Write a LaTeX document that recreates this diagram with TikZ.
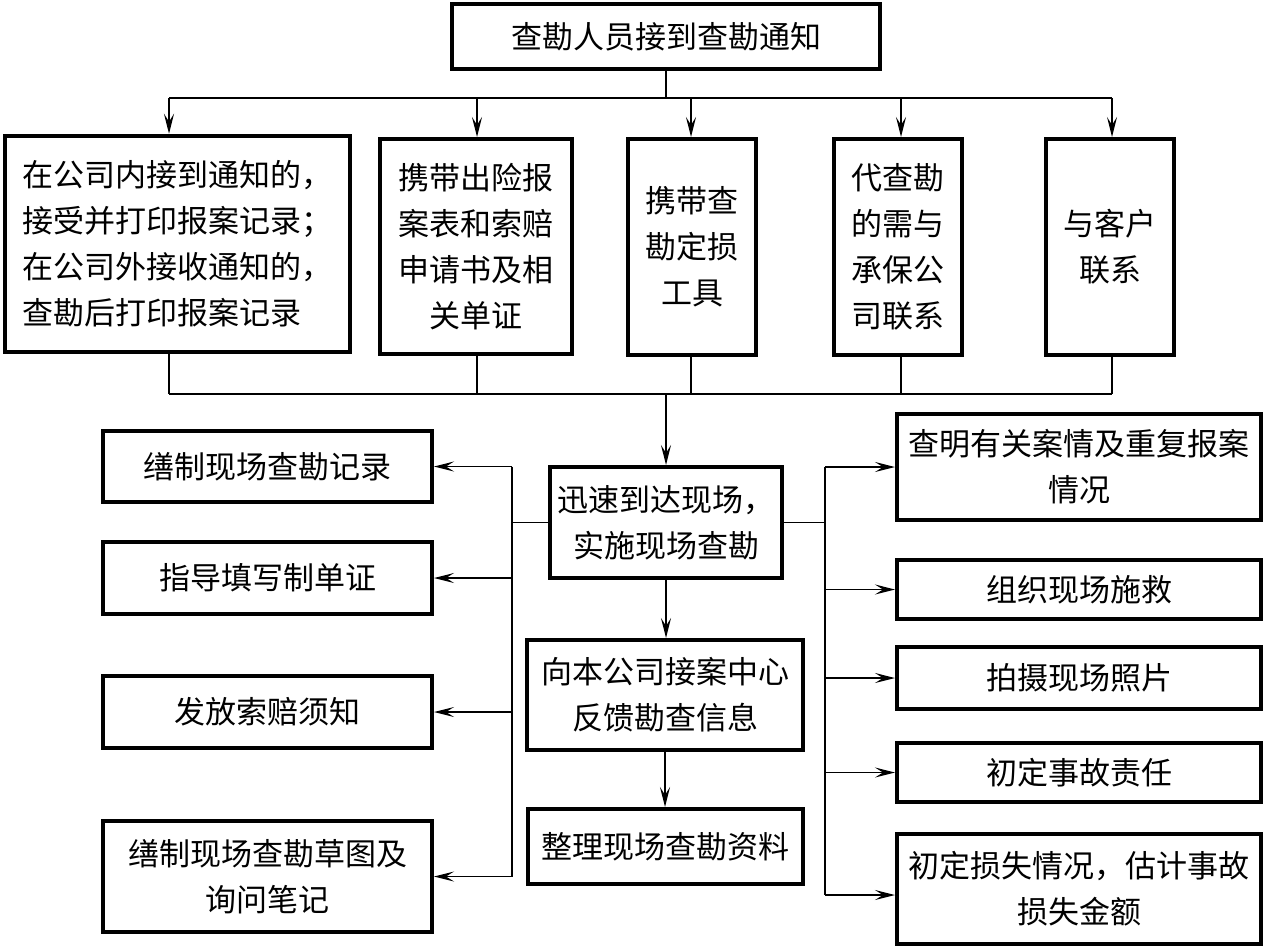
\documentclass[tikz,border=0pt]{standalone}
\usepackage{fontspec}
\newfontfamily\cjk{Noto Sans CJK SC}
\usetikzlibrary{arrows.meta}
\begin{document}
\begin{tikzpicture}[x=1pt,y=-1pt,
  box/.style={draw, line width=4pt, inner sep=0pt, font=\cjk\fontsize{31}{46}\selectfont, align=center},
  conn/.style={line width=1.5pt},
  arr/.style={conn, -{Stealth[length=20pt,width=10pt,inset=8pt]}}]
\useasboundingbox[fill=white] (0,0) rectangle (1266,948);

% top
\node[box, minimum width=428pt, minimum height=65pt] (top) at (666,36.5) {查勘人员接到查勘通知};

% second row
\node[box, align=left, line width=4.5pt, minimum width=345pt, minimum height=216pt] (b1) at (177.5,244)
  {在公司内接到通知的，\\接受并打印报案记录；\\在公司外接收通知的，\\查勘后打印报案记录};
\node[box, minimum width=192pt, minimum height=215pt] (b2) at (476,246.5)
  {携带出险报\\案表和索赔\\申请书及相\\关单证};
\node[box, minimum width=128pt, minimum height=216pt] (b3) at (692,247)
  {携带查\\勘定损\\工具};
\node[box, minimum width=128pt, minimum height=216pt] (b4) at (898,247)
  {代查勘\\的需与\\承保公\\司联系};
\node[box, minimum width=128pt, minimum height=216pt] (b5) at (1110,247)
  {与客户\\联系};

% middle column
\node[box, minimum width=232pt, minimum height=111pt] (m1) at (666,522.5)
  {迅速到达现场，\\实施现场查勘};
\node[box, minimum width=276pt, minimum height=110pt] (m2) at (665,695)
  {向本公司接案中心\\反馈勘查信息};
\node[box, minimum width=275pt, minimum height=75pt] (m3) at (665,846.5)
  {整理现场查勘资料};

% left column
\node[box, minimum width=329pt, minimum height=71pt] (L1) at (267.5,466.5) {缮制现场查勘记录};
\node[box, minimum width=329pt, minimum height=72pt] (L2) at (267.5,578) {指导填写制单证};
\node[box, minimum width=329pt, minimum height=72pt] (L3) at (267.5,712) {发放索赔须知};
\node[box, minimum width=329pt, minimum height=111pt] (L4) at (267.5,876.5) {缮制现场查勘草图及\\询问笔记};

% right column
\node[box, minimum width=364pt, minimum height=106pt] (R1) at (1079,467) {查明有关案情及重复报案\\情况};
\node[box, minimum width=364pt, minimum height=59pt] (R2) at (1079,589.5) {组织现场施救};
\node[box, minimum width=364pt, minimum height=62pt] (R3) at (1079,678) {拍摄现场照片};
\node[box, minimum width=364pt, minimum height=59pt] (R4) at (1079,772.5) {初定事故责任};
\node[box, minimum width=364pt, minimum height=110pt] (R5) at (1079,889) {初定损失情况，估计事故\\损失金额};

% top distribution bus
\coordinate (hub) at (666,98);
\coordinate (t1) at (169,98);
\coordinate (t2) at (477,98);
\coordinate (t3) at (691,98);
\coordinate (t4) at (901,98);
\coordinate (t5) at (1112,98);
\draw[conn] (top.south) -- (hub);
\draw[conn] (t1) -- (t5);
\foreach \i in {1,...,5}{\draw[arr] (t\i) -- (t\i |- b\i.north);}

% bottom collecting bus
\coordinate (hub2) at (666,394);
\coordinate (u1) at (169,394);
\coordinate (u2) at (477,394);
\coordinate (u3) at (691,394);
\coordinate (u4) at (901,394);
\coordinate (u5) at (1112,394);
\foreach \i in {1,...,5}{\draw[conn] (u\i |- b\i.south) -- (u\i);}
\draw[conn] (u1) -- (u5);
\draw[arr] (hub2) -- (m1.north);

% middle chain
\draw[arr] (m1.south) -- (m1.south |- m2.north);
\draw[arr] (m2.south) -- (m2.south |- m3.north);

% left branch
\coordinate (lv) at (512,522.5);
\draw[conn] (m1.west) -- (lv);
\draw[conn] (L1.east -| lv) -- (L4.east -| lv);
\foreach \n in {L1,L2,L3,L4}{\draw[arr] (\n.east -| lv) -- (\n.east);}

% right branch
\coordinate (rv) at (825,522.5);
\coordinate (r5a) at ([yshift=-6pt]R5.west);
\draw[conn] (m1.east) -- (rv);
\draw[conn] (R1.west -| rv) -- (r5a -| rv);
\foreach \n in {R1,R2,R3,R4}{\draw[arr] (\n.west -| rv) -- (\n.west);}
\draw[arr] (r5a -| rv) -- (r5a);
\end{tikzpicture}
\end{document}
